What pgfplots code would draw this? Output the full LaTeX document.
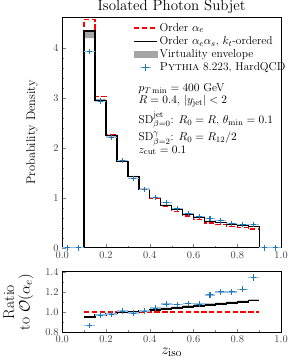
\documentclass[border=0pt]{standalone}
\usepackage{pgfplots}
\pgfplotsset{compat=1.18}
\usepgfplotslibrary{fillbetween}
\definecolor{pyblue}{RGB}{31,119,180}
\definecolor{lightblue}{RGB}{150,190,222}
\definecolor{envgray}{RGB}{165,165,165}
\begin{document}
\begin{tikzpicture}
\pgfplotsset{
  every axis/.append style={
    scale only axis, width=210bp,
    xmin=0, xmax=1,
    tick align=inside,
    xtick pos=bottom, ytick pos=left,
    tick label style={font=\fontsize{10}{12}\selectfont, color=black!75},
    major tick length=3.5bp, minor tick length=2bp,
    axis line style={line width=0.6pt},
    xtick={0,0.2,0.4,0.6,0.8,1.0},
    minor x tick num=1,
    xticklabel style={/pgf/number format/.cd, fixed, fixed zerofill, precision=1},
  }
}
\begin{axis}[at={(0bp,0bp)}, anchor=south west, height=221bp, ymin=0, ymax=4.604,
  ytick={0,1,2,3,4}, minor y tick num=4,
  legend style={at={(rel axis cs:0.324,0.985)}, anchor=north west, draw=none, fill=none,
    font=\fontsize{11}{13}\selectfont, inner sep=0pt, row sep=-0.5pt},
  legend cell align=left]
% envelope
\addplot[name path=envup, draw=none, const plot, forget plot] coordinates {
(0.1,4.34)(0.15,2.97)(0.2,2.26)(0.25,1.74)(0.3,1.44)(0.35,1.19)(0.4,1.015)(0.45,0.865)(0.5,0.775)(0.55,0.685)(0.6,0.612)(0.65,0.542)(0.7,0.51)(0.75,0.48)(0.8,0.45)(0.85,0.43)(0.9,0.43)};
\addplot[name path=envlo, draw=none, const plot, forget plot] coordinates {
(0.1,4.19)(0.15,2.92)(0.2,2.22)(0.25,1.71)(0.3,1.41)(0.35,1.165)(0.4,0.995)(0.45,0.845)(0.5,0.755)(0.55,0.665)(0.6,0.595)(0.65,0.527)(0.7,0.497)(0.75,0.467)(0.8,0.437)(0.85,0.417)(0.9,0.417)};
\addplot[envgray, forget plot] fill between[of=envup and envlo];
% legend images
\addlegendimage{legend image code/.code={\draw[red, line width=1.3pt, dash pattern=on 5bp off 2.5bp] (0bp,0bp) -- (22bp,0bp);}}
\addlegendentry{Order $\alpha_e$}
\addlegendimage{legend image code/.code={\draw[black, line width=1.3pt] (0bp,0bp) -- (22bp,0bp);}}
\addlegendentry{Order $\alpha_e\alpha_s$, $k_t$-ordered}
\addlegendimage{legend image code/.code={\fill[envgray] (0bp,-2.8bp) rectangle (22bp,2.8bp);}}
\addlegendentry{Virtuality envelope}
\addlegendimage{legend image code/.code={\draw[lightblue, line width=1.2pt] (6bp,0bp) -- (16bp,0bp); \draw[pyblue, line width=1pt] (7.5bp,0bp) -- (14.5bp,0bp) (11bp,-3.5bp) -- (11bp,3.5bp);}}
\addlegendentry{\textsc{Pythia} 8.223, HardQCD}
% order alpha_e
\addplot[red, line width=1.3pt, dash pattern=on 5bp off 2.5bp, const plot, forget plot] coordinates {
(0,0)(0.1,4.56)(0.15,3.03)(0.2,2.27)(0.25,1.73)(0.3,1.42)(0.35,1.16)(0.4,0.98)(0.45,0.825)(0.5,0.73)(0.55,0.638)(0.6,0.566)(0.65,0.495)(0.7,0.463)(0.75,0.431)(0.8,0.40)(0.85,0.377)(0.9,0)(1.0,0)};
% order alpha_e alpha_s
\addplot[black, line width=1.3pt, const plot, forget plot] coordinates {
(0,0)(0.1,4.33)(0.15,2.94)(0.2,2.24)(0.25,1.72)(0.3,1.42)(0.35,1.17)(0.4,1.0)(0.45,0.85)(0.5,0.76)(0.55,0.67)(0.6,0.60)(0.65,0.53)(0.7,0.50)(0.75,0.47)(0.8,0.44)(0.85,0.42)(0.9,0)(1.0,0)};
% pythia horizontal bars
\addplot[draw=none, mark=none, forget plot, error bars/.cd, x dir=both, x explicit, error bar style={lightblue, line width=1.2pt}, error mark=none]
 table[x=x, y=y, x error=ex] {
x y ex
0.025 0 0.025
0.075 0 0.025
0.125 3.92 0.025
0.175 2.93 0.025
0.225 2.20 0.025
0.275 1.75 0.025
0.325 1.39 0.025
0.375 1.17 0.025
0.425 1.01 0.025
0.475 0.90 0.025
0.525 0.78 0.025
0.575 0.69 0.025
0.625 0.62 0.025
0.675 0.58 0.025
0.725 0.54 0.025
0.775 0.49 0.025
0.825 0.47 0.025
0.875 0.47 0.025
0.925 0 0.025
0.975 0 0.025
};
\addplot[pyblue, only marks, mark=+, mark size=2.6bp, mark options={line width=1pt}, forget plot, error bars/.cd, y dir=both, y explicit, error bar style={pyblue, line width=1pt}, error mark=none]
 table[x=x, y=y, y error=ey] {
x y ey
0.025 0 0
0.075 0 0
0.125 3.92 0.04
0.175 2.93 0.03
0.225 2.20 0.03
0.275 1.75 0.025
0.325 1.39 0.02
0.375 1.17 0.02
0.425 1.01 0.02
0.475 0.90 0.02
0.525 0.78 0.015
0.575 0.69 0.015
0.625 0.62 0.015
0.675 0.58 0.015
0.725 0.54 0.015
0.775 0.49 0.015
0.825 0.47 0.015
0.875 0.47 0.015
0.925 0 0
0.975 0 0
};
\node[anchor=north west, align=left, inner sep=0pt, font=\fontsize{11}{13}\selectfont] at (rel axis cs:0.348,0.715) {%
$p_{T\,\mathrm{min}} = 400$~GeV\\[-1pt]
$R = 0.4$, $|y_{\mathrm{jet}}| < 2$\\[4pt]
SD$^{\mathrm{jet}}_{\beta=0}$: $R_0 = R$, $\theta_{\mathrm{min}} = 0.1$\\[2pt]
SD$^{\gamma}_{\beta=2}$: $R_0 = R_{12}/2$\\[-1pt]
$z_{\mathrm{cut}} = 0.1$};
\end{axis}
\begin{axis}[at={(0bp,-23bp)}, anchor=north west,
  height=58bp, ymin=0.8, ymax=1.4,
  ytick={0.8,1.0,1.2,1.4}, minor y tick num=1,
  yticklabel style={/pgf/number format/.cd, fixed, fixed zerofill, precision=1},
  xlabel={$z_{\mathrm{iso}}$}, xlabel style={font=\fontsize{15}{18}\selectfont, yshift=2bp}]
\addplot[name path=rup, draw=none, const plot, forget plot] coordinates {
(0.1,0.955)(0.15,0.975)(0.2,0.99)(0.25,1.002)(0.3,1.008)(0.35,1.02)(0.4,1.032)(0.45,1.045)(0.5,1.055)(0.55,1.066)(0.6,1.076)(0.65,1.086)(0.7,1.095)(0.75,1.104)(0.8,1.113)(0.85,1.125)(0.9,1.125)};
\addplot[name path=rlo, draw=none, const plot, forget plot] coordinates {
(0.1,0.945)(0.15,0.966)(0.2,0.981)(0.25,0.991)(0.3,0.996)(0.35,1.006)(0.4,1.016)(0.45,1.026)(0.5,1.036)(0.55,1.046)(0.6,1.056)(0.65,1.066)(0.7,1.076)(0.75,1.086)(0.8,1.096)(0.85,1.111)(0.9,1.111)};
\addplot[envgray, forget plot] fill between[of=rup and rlo];
\addplot[red, line width=1.3pt, dash pattern=on 5bp off 2.5bp, forget plot] coordinates {(0.1,1)(0.9,1)};
\addplot[black, line width=1.3pt, const plot, forget plot] coordinates {
(0.1,0.95)(0.15,0.97)(0.2,0.985)(0.25,0.995)(0.3,1.0)(0.35,1.01)(0.4,1.02)(0.45,1.03)(0.5,1.04)(0.55,1.05)(0.6,1.06)(0.65,1.07)(0.7,1.08)(0.75,1.09)(0.8,1.10)(0.85,1.115)(0.9,1.115)};
\addplot[draw=none, mark=none, forget plot, error bars/.cd, x dir=both, x explicit, error bar style={lightblue, line width=1.2pt}, error mark=none]
 table[x=x, y=y, x error=ex] {
x y ex
0.125 0.865 0.025
0.175 0.97 0.025
0.225 0.98 0.025
0.275 1.01 0.025
0.325 0.99 0.025
0.375 1.01 0.025
0.425 1.04 0.025
0.475 1.08 0.025
0.525 1.075 0.025
0.575 1.085 0.025
0.625 1.08 0.025
0.675 1.17 0.025
0.725 1.20 0.025
0.775 1.20 0.025
0.825 1.225 0.025
0.875 1.34 0.025
};
\addplot[pyblue, only marks, mark=+, mark size=2.6bp, mark options={line width=1pt}, forget plot, error bars/.cd, y dir=both, y explicit, error bar style={pyblue, line width=1pt}, error mark=none]
 table[x=x, y=y, y error=ey] {
x y ey
0.125 0.865 0.005
0.175 0.97 0.01
0.225 0.98 0.01
0.275 1.01 0.012
0.325 0.99 0.012
0.375 1.01 0.015
0.425 1.04 0.015
0.475 1.08 0.02
0.525 1.075 0.02
0.575 1.085 0.02
0.625 1.08 0.025
0.675 1.17 0.025
0.725 1.20 0.03
0.775 1.20 0.03
0.825 1.225 0.03
0.875 1.34 0.035
};
\end{axis}
\node[anchor=south, inner sep=0pt, font=\Large] at (105bp,224.5bp) {Isolated Photon Subjet};
\node[rotate=90, font=\fontsize{12}{14}\selectfont] at (-29bp,110.5bp) {Probability Density};
\node[rotate=90, align=center, font=\fontsize{15}{15}\selectfont] at (-42bp,-52bp) {Ratio\\to $\mathcal{O}(\alpha_e)$};
\end{tikzpicture}
\end{document}
